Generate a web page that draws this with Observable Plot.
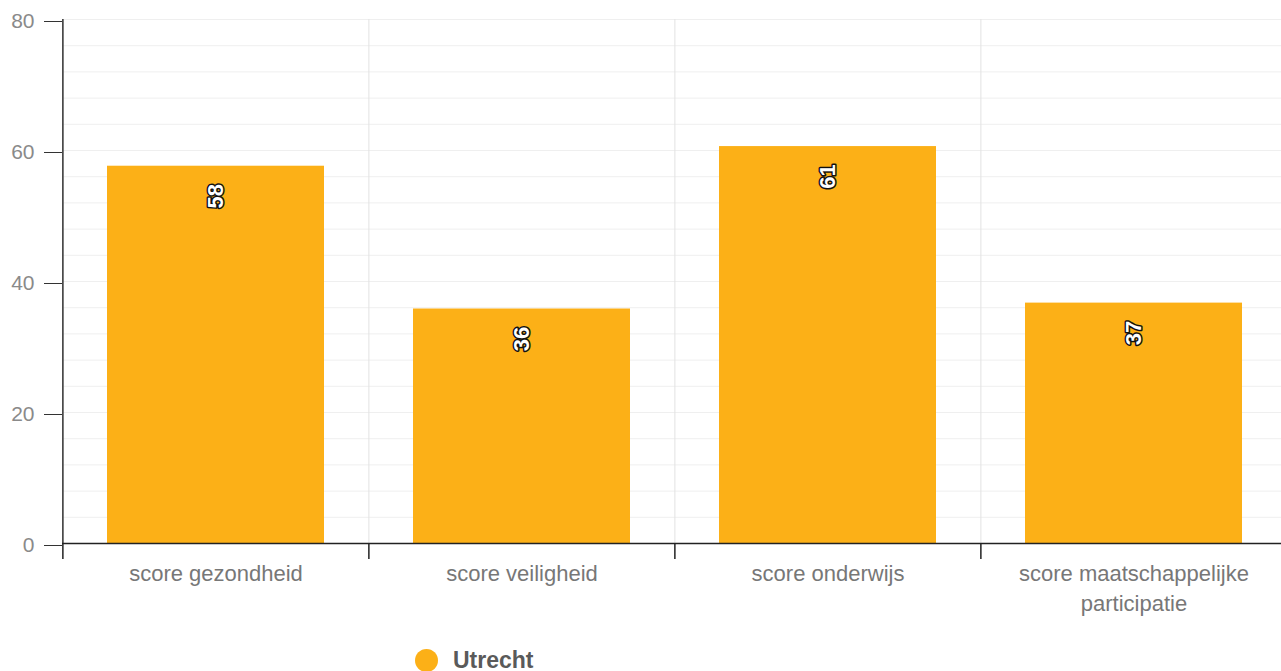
<!DOCTYPE html>
<html>
<head>
<meta charset="utf-8">
<script src="https://cdn.jsdelivr.net/npm/d3@7"></script>
<script src="https://cdn.jsdelivr.net/npm/@observablehq/plot@0.6"></script>
<style>
  html, body { margin: 0; padding: 0; background: #fff; overflow: hidden; }
  #legend { display: flex; align-items: center; margin-left: 415px; margin-top: 14px; height: 22px;
            font-family: "Liberation Sans", Arial, sans-serif; font-weight: bold; font-size: 23px; color: #5a5a5a; }
  #legend .dot { width: 23px; height: 23px; border-radius: 50%; background: #fcb017; margin-right: 15px; }
</style>
</head>
<body>
<div id="chart"></div>
<div id="legend"><span class="dot"></span><span id="legend-label"></span></div>
<script>
const categories = ["score gezondheid", "score veiligheid", "score onderwijs", "score maatschappelijke participatie"];
const seriesName = "Utrecht";
const values = [57.6, 35.8, 60.6, 36.7];
const yTicks = [0, 20, 40, 60, 80];
const gridValues = d3.range(0, 81, 4);

const barColor = "#fcb017";
const W = 1281, H = 635, mL = 62, mR = -6, mT = 19, mB = 92;
const step = (W - mL - mR) / categories.length;
const pxPerUnit = (H - mT - mB) / 80;

const data = categories.map((c, i) => ({category: c, value: values[i]}));

const chart = Plot.plot({
  width: W, height: H,
  marginLeft: mL, marginRight: mR, marginTop: mT, marginBottom: mB,
  style: {fontFamily: "'Liberation Sans', Arial, sans-serif", background: "#fff"},
  x: {domain: categories, paddingInner: 0.29, paddingOuter: 0.145, label: null},
  y: {domain: [0, 80], label: null},
  marks: [
    Plot.ruleY(gridValues, {stroke: "#efefef", strokeWidth: 1}),
    Plot.ruleX(categories, {x: d => d, dx: -step / 2, y1: 0, y2: 80, stroke: "#e2e2e2", strokeWidth: 1}),
    Plot.barY(data, {x: "category", y: "value", fill: barColor}),
    Plot.ruleX(categories, {x: d => d, dx: -step / 2, y1: 0, y2: -16 / pxPerUnit, stroke: "#222", strokeWidth: 1.5}),
    Plot.ruleX([categories[0]], {x: d => d, dx: -step / 2, y1: 0, y2: 80, stroke: "#333", strokeWidth: 1.5}),
    Plot.ruleY([0], {stroke: "#222", strokeWidth: 1.5}),
    Plot.axisY({ticks: yTicks, tickSize: 18, tickPadding: 10, fontSize: 21, stroke: "#333", fill: "#8a8a8a", label: null, dy: 2}),
    Plot.axisX({tickSize: 0, tickPadding: 17, fontSize: 22, lineWidth: 11.5, lineHeight: 1.33, fill: "#777", label: null}),
    Plot.text(data, {x: "category", y: "value", text: d => String(Math.round(d.value)), rotate: -90, dy: 30,
      fill: "#fff", stroke: "#111", strokeWidth: 3, paintOrder: "stroke", fontWeight: "bold", fontSize: 22})
  ]
});
document.getElementById("chart").appendChild(chart);
document.getElementById("legend-label").textContent = seriesName;
</script>
</body>
</html>
